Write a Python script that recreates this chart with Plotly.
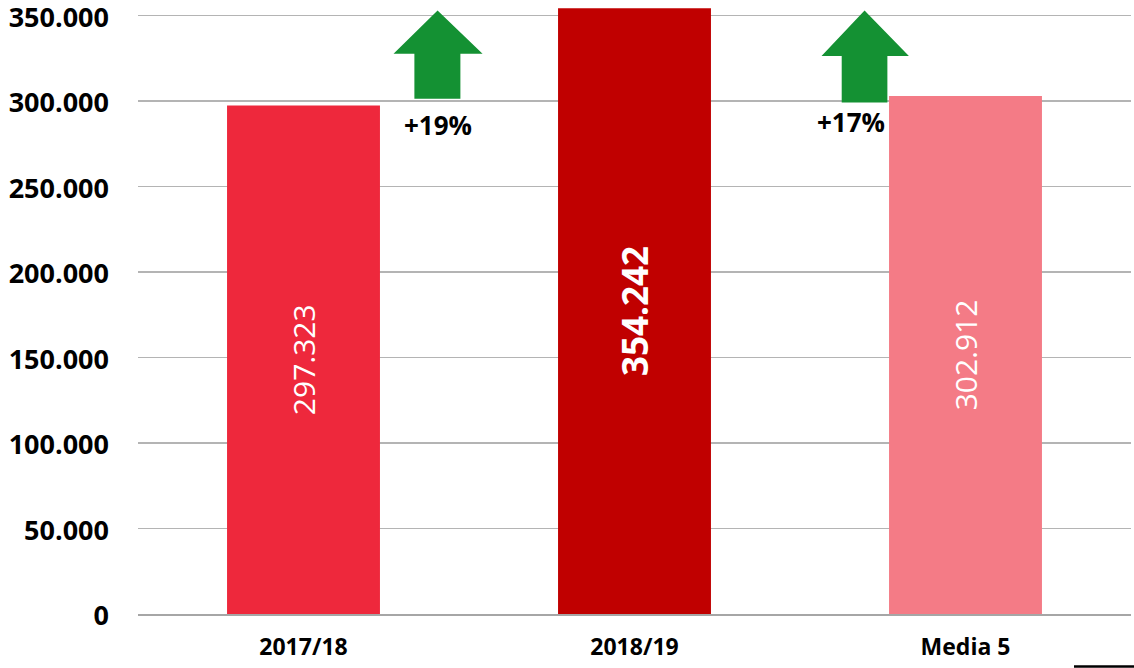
import plotly.graph_objects as go

categories = ["2017/18", "2018/19", "Media 5"]
values = [297323, 354242, 302912]
bar_colors = ["#EE283C", "#C00000", "#F47B86"]
value_labels = ["297.323", "354.242", "302.912"]
label_sizes = [30, 35, 30]
label_weights = ["normal", "bold", "normal"]
y_ticks = [0, 50000, 100000, 150000, 200000, 250000, 300000, 350000]
y_tick_labels = ["0", "50.000", "100.000", "150.000", "200.000", "250.000", "300.000", "350.000"]
pct_labels = ["+19%", "+17%"]

FONT = "Open Sans"
GREEN = "#149133"

fig = go.Figure()
for i, (c, v) in enumerate(zip(categories, values)):
    fig.add_trace(go.Bar(
        x=[i], y=[v],
        marker=dict(color=bar_colors[i], line=dict(width=0)),
        text=[value_labels[i]],
        textposition="inside",
        insidetextanchor="middle",
        textangle=-90,
        textfont=dict(family=FONT, size=label_sizes[i], color="white", weight=label_weights[i]),
        width=0.462,
        showlegend=False,
        hoverinfo="skip",
    ))

def arrow_path(tip_x, tip_y, head_l, head_r, head_base, shaft_l, shaft_r, bottom):
    return (f"M {tip_x} {tip_y} L {head_r} {head_base} L {shaft_r} {head_base} "
            f"L {shaft_r} {bottom} L {shaft_l} {bottom} L {shaft_l} {head_base} "
            f"L {head_l} {head_base} Z")

shapes = [
    dict(type="path", xref="x", yref="y",
         path=arrow_path(0.405, 352800, 0.272, 0.541, 327500, 0.335, 0.474, 301200),
         fillcolor=GREEN, line=dict(width=0), layer="above"),
    dict(type="path", xref="x", yref="y",
         path=arrow_path(1.695, 352800, 1.565, 1.829, 326300, 1.626, 1.764, 299000),
         fillcolor=GREEN, line=dict(width=0), layer="above"),
    dict(type="line", xref="paper", yref="paper",
         x0=(1074 - 138) / 993, x1=(1134 - 138) / 993, y0=-0.0855, y1=-0.0855,
         line=dict(color="black", width=2.5)),
]

annotations = [
    dict(x=0.405, y=(614 - 125) / 85.5 * 50000, xref="x", yref="y", text=pct_labels[0],
         showarrow=False, font=dict(family=FONT, size=26, color="black", weight="bold")),
    dict(x=1.655, y=(614 - 122) / 85.5 * 50000, xref="x", yref="y", text=pct_labels[1],
         showarrow=False, font=dict(family=FONT, size=26, color="black", weight="bold")),
]

fig.update_layout(
    width=1134, height=668,
    margin=dict(l=138, r=3, t=0, b=54, autoexpand=False),
    paper_bgcolor="white", plot_bgcolor="white",
    bargap=0.538,
    shapes=shapes,
    annotations=annotations,
    xaxis=dict(
        tickmode="array", tickvals=[0, 1, 2], ticktext=categories,
        range=[-0.5, 2.5], automargin=False,
        tickfont=dict(family=FONT, size=23, color="black", weight="bold"),
        showline=True, linecolor="#A6A6A6", linewidth=1.5,
        showgrid=False, ticks="", ticklabelstandoff=12,
    ),
    yaxis=dict(
        range=[0, 359000], automargin=False,
        tickmode="array", tickvals=y_ticks, ticktext=y_tick_labels,
        tickfont=dict(family=FONT, size=27, color="black", weight="bold"),
        showgrid=True, gridcolor="#B4B4B4", gridwidth=1.5,
        zeroline=False, showline=False, ticks="",
        ticklabelstandoff=28, ticklabeloverflow="allow", ticklabelshift=2,
    ),
)

fig.write_html(
    "out.html",
    config={"displayModeBar": False, "staticPlot": True},
    post_script="document.body.style.margin='0';document.body.style.overflow='hidden';",
)
